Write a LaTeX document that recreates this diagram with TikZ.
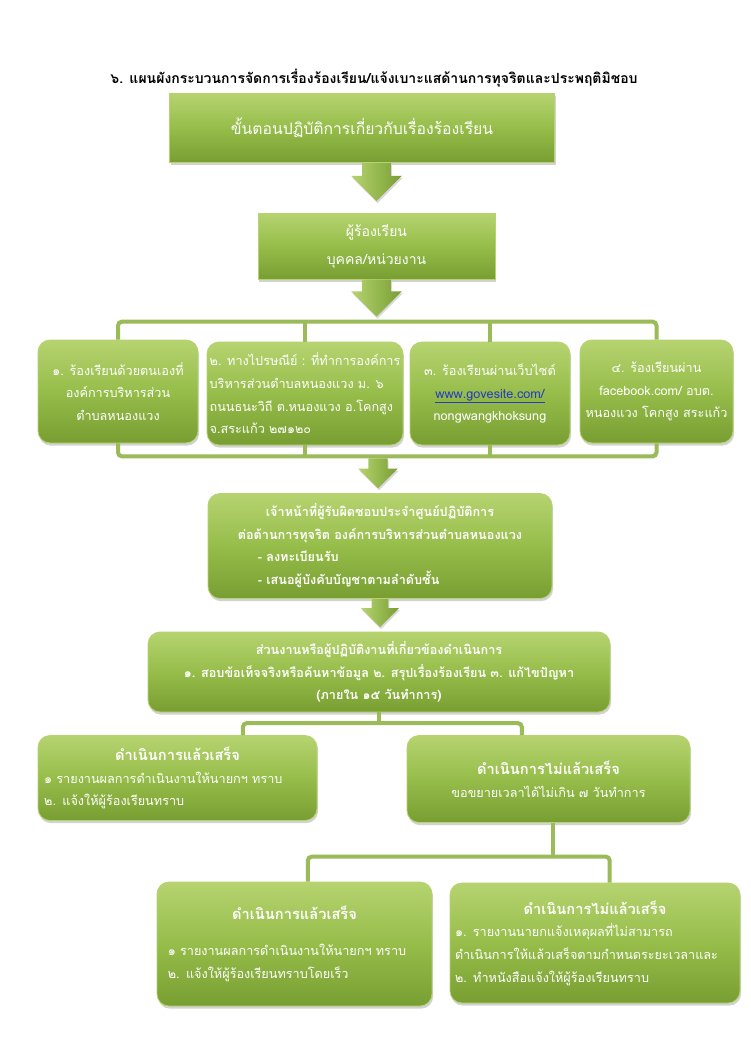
\documentclass[tikz,border=0pt]{standalone}
\usepackage{fontspec}
\setmainfont{Loma}[Script=Thai]
\usetikzlibrary{shapes.arrows,shadows}
\definecolor{gTop}{RGB}{182,211,112}
\definecolor{gMid}{RGB}{150,189,74}
\definecolor{gBot}{RGB}{120,158,50}
\definecolor{gLine}{RGB}{155,187,89}
\definecolor{linkblue}{RGB}{40,60,190}
\tikzset{
  sqbox/.style={draw=gTop, line width=0.6pt, top color=gTop, bottom color=gBot, middle color=gMid,
    text=white, align=center, inner sep=2pt,
    drop shadow={opacity=0.35, shadow xshift=0.8pt, shadow yshift=-2pt}},
  rbox/.style={sqbox, rounded corners=9pt},
  conn/.style={gLine, line width=3pt, rounded corners=3pt},
  blkarrow/.style={single arrow, rotate=-90, anchor=tail, draw=none, inner xsep=0pt,
    single arrow tip angle=90, left color=gTop, right color=gBot,
    drop shadow={opacity=0.3, shadow xshift=0.8pt, shadow yshift=-1.5pt}},
  body/.style={font=\fontsize{9.5}{17}\selectfont}
}
\begin{document}
\begin{tikzpicture}[x=0.75pt,y=-0.75pt]
\useasboundingbox (0,0) rectangle (750,1060);
\fill[white] (0,0) rectangle (750,1060);

% title and the first two steps
\node[font=\bfseries\fontsize{10.5}{12}\selectfont] (title) at (374,78)
  {๖. แผนผังกระบวนการจัดการเรื่องร้องเรียน/แจ้งเบาะแสด้านการทุจริตและประพฤติมิชอบ};
\node[sqbox, minimum width=288.75pt, minimum height=51.75pt, font=\fontsize{11.8}{14}\selectfont] (steps) at (362,128)
  {ขั้นตอนปฏิบัติการเกี่ยวกับเรื่องร้องเรียน};
\node[sqbox, minimum width=177.75pt, minimum height=49.5pt, font=\fontsize{10.5}{21}\selectfont] (who) at (376.5,246)
  {ผู้ร้องเรียน\\บุคคล/หน่วยงาน};
\node[blkarrow, inner ysep=10.5pt, single arrow head extend=8.25pt, minimum height=28.5pt] (a1) at (steps.south -| who.north) {};
\node[blkarrow, inner ysep=10.5pt, single arrow head extend=8.25pt, minimum height=27.75pt] (a2) at (who.south) {};

% four ways to complain
\node[rbox, body, minimum width=120pt, minimum height=77.25pt] (byself) at (118,391.5)
  {๑. ร้องเรียนด้วยตนเองที่\\องค์การบริหารส่วน\\ตำบลหนองแวง};
\node[rbox, body, align=left, minimum width=142.5pt, minimum height=77.25pt] (bypost) at (305,393.5)
  {๒. ทางไปรษณีย์ : ที่ทำการองค์การ\\บริหารส่วนตำบลหนองแวง ม. ๖\\ถนนธนะวิถี ต.หนองแวง อ.โคกสูง\\จ.สระแก้ว ๒๗๑๒๐};
\node[rbox, body, minimum width=120pt, minimum height=77.25pt] (byweb) at (490,393.5)
  {๓. ร้องเรียนผ่านเว็บไซต์\\\textcolor{linkblue}{\underline{www.govesite.com/}}\\nongwangkhoksung};
\node[rbox, body, minimum width=114.75pt, minimum height=77.25pt] (byfb) at (656.5,391.5)
  {๔. ร้องเรียนผ่าน\\facebook.com/ อบต.\\หนองแวง โคกสูง สระแก้ว};

\draw[conn] (byself.north) -- ++(0,-18) -| (byfb.north);
\draw[conn] (bypost.north) -- ++(0,-19);
\draw[conn] (byweb.north) -- ++(0,-19);
\draw[conn] (byself.south) -- ++(0,13) coordinate (j1) -| (byfb.south);
\draw[conn] (bypost.south) -- (bypost.south |- j1);
\draw[conn] (byweb.south) -- (byweb.south |- j1);
\coordinate (j2) at (378,458);

% officer and the units that act
\node[rbox, minimum width=258pt, minimum height=78.75pt, font=\bfseries\fontsize{9.5}{17}\selectfont] (officer) at (380,546)
  {\begin{tabular}{@{}l@{}}
   \multicolumn{1}{@{}c@{}}{เจ้าหน้าที่ผู้รับผิดชอบประจำศูนย์ปฏิบัติการ}\\
   \multicolumn{1}{@{}c@{}}{ต่อต้านการทุจริต องค์การบริหารส่วนตำบลหนองแวง}\\
   \hspace*{15pt}- ลงทะเบียนรับ\\
   \hspace*{15pt}- เสนอผู้บังคับบัญชาตามลำดับชั้น
   \end{tabular}};
\node[blkarrow, inner ysep=7pt, single arrow head extend=7.5pt, minimum height=22.5pt] (a3) at (j2) {};
\node[rbox, minimum width=346.5pt, minimum height=60pt, font=\bfseries\fontsize{9.5}{17}\selectfont] (units) at (379,672)
  {ส่วนงานหรือผู้ปฏิบัติงานที่เกี่ยวข้องดำเนินการ\\
   ๑. สอบข้อเท็จจริงหรือค้นหาข้อมูล ๒. สรุปเรื่องร้องเรียน ๓. แก้ไขปัญหา\\
   (ภายใน ๑๕ วันทำการ)};
\node[blkarrow, inner ysep=6pt, single arrow head extend=8pt, minimum height=21pt] (a4) at (officer.south) {};

% results within 15 days
\node[rbox, body, align=left, text width=200pt, minimum width=209.25pt, minimum height=63.75pt] (done) at (177.5,778)
  {\hfill{\bfseries\fontsize{11}{17}\selectfont ดำเนินการแล้วเสร็จ}\hfill\null\\
   ๑ รายงานผลการดำเนินงานให้นายกฯ ทราบ\\
   ๒. แจ้งให้ผู้ร้องเรียนทราบ};
\node[rbox, body, minimum width=212.25pt, minimum height=65.25pt] (notdone) at (548.5,779)
  {{\bfseries\fontsize{11}{17}\selectfont ดำเนินการไม่แล้วเสร็จ}\\
   ขอขยายเวลาได้ไม่เกิน ๗ วันทำการ};
\draw[conn] ([xshift=49pt]done.north) -- ++(0,-12) coordinate (j3) -| ([xshift=-20pt]notdone.north);
\draw[conn] (units.south) -- (units.south |- j3);

% results after the extra 7 days
\node[rbox, body, align=left, text width=190pt, minimum width=206.25pt, minimum height=93pt] (done2) at (294.5,944)
  {\hfill{\bfseries\fontsize{11}{17}\selectfont ดำเนินการแล้วเสร็จ}\hfill\null\\[10pt]
   ๑ รายงานผลการดำเนินงานให้นายกฯ ทราบ\\
   ๒. แจ้งให้ผู้ร้องเรียนทราบโดยเร็ว};
\node[rbox, body, align=left, text width=210pt, minimum width=217.5pt, minimum height=90pt] (notdone2) at (595,943)
  {\hfill{\bfseries\fontsize{11}{17}\selectfont ดำเนินการไม่แล้วเสร็จ}\hfill\null\\
   ๑. รายงานนายกแจ้งเหตุผลที่ไม่สามารถ\\
   ดำเนินการให้แล้วเสร็จตามกำหนดระยะเวลาและ\\
   ๒. ทำหนังสือแจ้งให้ผู้ร้องเรียนทราบ};
\draw[conn] ([xshift=10pt]done2.north) -- ++(0,-25) coordinate (j4) -| ([xshift=11pt]notdone2.north);
\draw[conn] ([xshift=3.4pt]notdone.south) -- ([xshift=3.4pt]notdone.south |- j4);
\end{tikzpicture}
\end{document}
